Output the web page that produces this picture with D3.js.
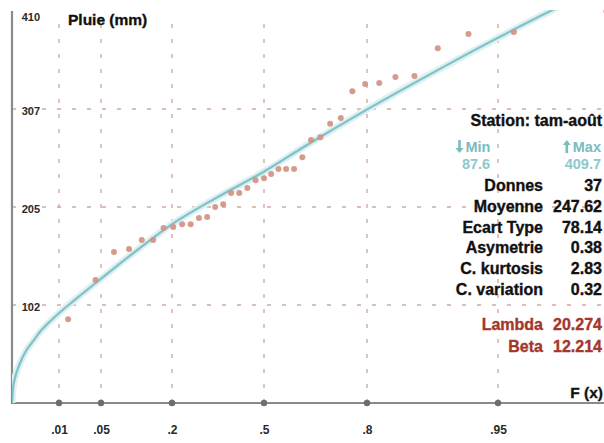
<!DOCTYPE html>
<html><head><meta charset="utf-8">
<script src="https://cdn.jsdelivr.net/npm/d3@7"></script>
<style>
body{margin:0;background:#fff}
svg{display:block}
text{font-family:"Liberation Sans",Arial,sans-serif;font-weight:bold}
</style>
</head><body>
<svg id="c" width="604" height="443"></svg>
<script>
// ---- data ----
const stationName = "Station: tam-août";
const yTitle = "Pluie (mm)";
const xTitle = "F (x)";
const pluie = [87.6, 128.6, 158, 161, 170.5, 170.5, 183, 184, 187, 187, 193.5, 194.5, 205, 208,
  219.6, 219.6, 225, 233, 235, 239.5, 244.7, 244.7, 244.7, 257, 275, 278, 292, 298, 326, 333.6,
  334.7, 341, 342, 371, 386, 388, 409.7];
const xTicks = [0.01, 0.05, 0.2, 0.5, 0.8, 0.95];
const xTickLabels = [".01", ".05", ".2", ".5", ".8", ".95"];
const yTicks = [102.5, 205, 307.5, 410];
const yTickLabels = ["102", "205", "307", "410"];
const curveF = [0.00058, 0.00063, 0.0007, 0.001, 0.0016, 0.0025, 0.004, 0.006, 0.01, 0.02, 0.05, 0.1, 0.2, 0.35, 0.5, 0.65, 0.8, 0.9, 0.95, 0.98, 0.99];
const curveVal = [0, 16, 24, 40, 55, 65, 76, 84, 94, 108, 130, 155, 187, 216, 242, 270, 307, 346, 382, 425, 450];
const extremeLabels = ["Min", "Max"];
const extremeValues = ["87.6", "409.7"];
const statLabels = ["Donnes", "Moyenne", "Ecart Type", "Asymetrie", "C. kurtosis", "C. variation"];
const statValues = ["37", "247.62", "78.14", "0.38", "2.83", "0.32"];
const paramLabels = ["Lambda", "Beta"];
const paramValues = ["20.274", "12.214"];

// ---- scales ----
const gumbel = F => -Math.log(-Math.log(F));
const x = d3.scaleLinear().domain(xTicks.map(gumbel)).range([59, 101, 172, 264, 367, 498]);
const y = d3.scaleLinear().domain([0, 410]).range([403, 11]);
const X0 = 12, X1 = 604, Y0 = 403, Y1 = 11;
const FONT = '"Liberation Sans",Arial,sans-serif';

const svg = d3.select("#c");
svg.append("rect").attr("width", 604).attr("height", 443).attr("fill", "#fff");

svg.append("defs").append("clipPath").attr("id", "clip")
  .append("rect").attr("x", X0).attr("y", 10).attr("width", X1 - X0).attr("height", Y0 - 10);

// grid
const grid = svg.append("g").attr("stroke", "#d2aaa2").attr("stroke-width", 1.4).attr("stroke-dasharray", "4,11");
grid.selectAll("line.v").data(xTicks).join("line").attr("class", "v")
  .attr("x1", d => x(gumbel(d))).attr("x2", d => x(gumbel(d)))
  .attr("y1", Y0).attr("y2", 18);
grid.selectAll("line.h").data(yTicks.filter(d => d < 410)).join("line").attr("class", "h")
  .attr("y1", d => y(d)).attr("y2", d => y(d))
  .attr("x1", X0).attr("x2", X1);

// axes lines
svg.append("line").attr("x1", X0).attr("x2", X0).attr("y1", Y1).attr("y2", Y0 + 1)
  .attr("stroke", "#8a8a8a").attr("stroke-width", 2.2);
svg.append("line").attr("x1", X0 - 1).attr("x2", X1).attr("y1", Y0).attr("y2", Y0)
  .attr("stroke", "#8a8a8a").attr("stroke-width", 2.2);
svg.selectAll("circle.tk").data(xTicks).join("circle").attr("class", "tk")
  .attr("cx", d => x(gumbel(d))).attr("cy", Y0).attr("r", 3.2).attr("fill", "#6d6d6d");

// x axis labels
const xAxis = d3.axisBottom(x).tickValues(xTicks.map(gumbel))
  .tickFormat((d, i) => xTickLabels[i]).tickSize(0).tickPadding(22);
const gx = svg.append("g").attr("transform", `translate(0,${Y0})`).call(xAxis);
gx.select(".domain").remove();
gx.selectAll("text").attr("font-size", 12).attr("fill", "#2a2a2a")
  .style("font-family", FONT).style("font-weight", "bold");

// y axis labels
const yAxis = d3.axisLeft(y).tickValues(yTicks).tickFormat((d, i) => yTickLabels[i]).tickSize(0).tickPadding(0);
const gy = svg.append("g").attr("transform", "translate(40,0)").call(yAxis);
gy.select(".domain").remove();
gy.selectAll("text").attr("font-size", 11).attr("fill", "#2a2a2a")
  .style("font-family", FONT).style("font-weight", "bold")
  .attr("dy", (d) => d >= 410 ? "0.85em" : "0.5em");

// curve
const pts = curveF.map((f, i) => ({f, v: curveVal[i]}));
const line = d3.line().x(d => x(gumbel(d.f))).y(d => y(d.v)).curve(d3.curveMonotoneX);
const plot = svg.append("g").attr("clip-path", "url(#clip)");
plot.append("path").datum(pts).attr("d", line).attr("fill", "none")
  .attr("stroke", "#e0f1f3").attr("stroke-width", 7);
plot.append("path").datum(pts).attr("d", line).attr("fill", "none")
  .attr("stroke", "#84c4c9").attr("stroke-width", 2.4);

// points (Gringorten plotting positions)
const n = pluie.length;
const obs = pluie.slice().sort((a, b) => a - b).map((v, i) => ({v, f: (i + 1 - 0.44) / (n + 0.12)}));
plot.selectAll("circle.pt").data(obs).join("circle").attr("class", "pt")
  .attr("cx", d => x(gumbel(d.f))).attr("cy", d => y(d.v)).attr("r", 3)
  .attr("fill", "#d3907f").attr("fill-opacity", 0.9);

// titles
const heavy = sel => sel.attr("stroke", sel.attr("fill")).attr("stroke-width", 0.35);
heavy(svg.append("text").attr("x", 68).attr("y", 25).attr("font-size", 15.5).attr("fill", "#111").text(yTitle));
heavy(svg.append("text").attr("x", 603).attr("y", 398).attr("text-anchor", "end").attr("font-size", 15.5).attr("fill", "#111").text(xTitle));

// panel
const panel = svg.append("g");
heavy(panel.append("text").attr("x", 602).attr("y", 126).attr("text-anchor", "end")
  .attr("font-size", 16).attr("fill", "#111").text(stationName));

const teal = "#79bcc2";
const exX = [478, 601];
const exAnchor = ["middle", "end"];
extremeLabels.forEach((lab, i) => {
  const t = panel.append("text").attr("x", exX[i]).attr("y", 152).attr("text-anchor", exAnchor[i])
    .attr("font-size", 14.5).attr("fill", teal).text(lab);
  const b = t.node().getBBox();
  const ax = b.x - 6, top = b.y + 1, bot = b.y + b.height - 2;
  const p = d3.path();
  if (i === 0) {
    p.moveTo(ax - 1.3, top); p.lineTo(ax + 1.3, top); p.lineTo(ax + 1.3, bot - 5);
    p.lineTo(ax + 4, bot - 5); p.lineTo(ax, bot); p.lineTo(ax - 4, bot - 5); p.lineTo(ax - 1.3, bot - 5);
  } else {
    p.moveTo(ax - 1.3, bot); p.lineTo(ax + 1.3, bot); p.lineTo(ax + 1.3, top + 5);
    p.lineTo(ax + 4, top + 5); p.lineTo(ax, top); p.lineTo(ax - 4, top + 5); p.lineTo(ax - 1.3, top + 5);
  }
  p.closePath();
  panel.append("path").attr("d", p.toString()).attr("fill", teal);
  panel.append("text").attr("x", i === 0 ? 476 : 601).attr("y", 169).attr("text-anchor", exAnchor[i])
    .attr("font-size", 14.5).attr("fill", "#8fc8cc").text(extremeValues[i]);
});

const rowY = d3.scaleLinear().domain([0, 5]).range([191, 295]);
statLabels.forEach((lab, i) => {
  heavy(panel.append("text").attr("x", 543).attr("y", rowY(i)).attr("text-anchor", "end")
    .attr("font-size", 16).attr("fill", "#111").text(lab));
  heavy(panel.append("text").attr("x", 602).attr("y", rowY(i)).attr("text-anchor", "end")
    .attr("font-size", 16).attr("fill", "#111").text(statValues[i]));
});
paramLabels.forEach((lab, i) => {
  const yy = 330 + i * 22;
  heavy(panel.append("text").attr("x", 543).attr("y", yy).attr("text-anchor", "end")
    .attr("font-size", 16).attr("fill", "#a5362c").text(lab));
  heavy(panel.append("text").attr("x", 602).attr("y", yy).attr("text-anchor", "end")
    .attr("font-size", 16).attr("fill", "#a5362c").text(paramValues[i]));
});
</script>
</body></html>
